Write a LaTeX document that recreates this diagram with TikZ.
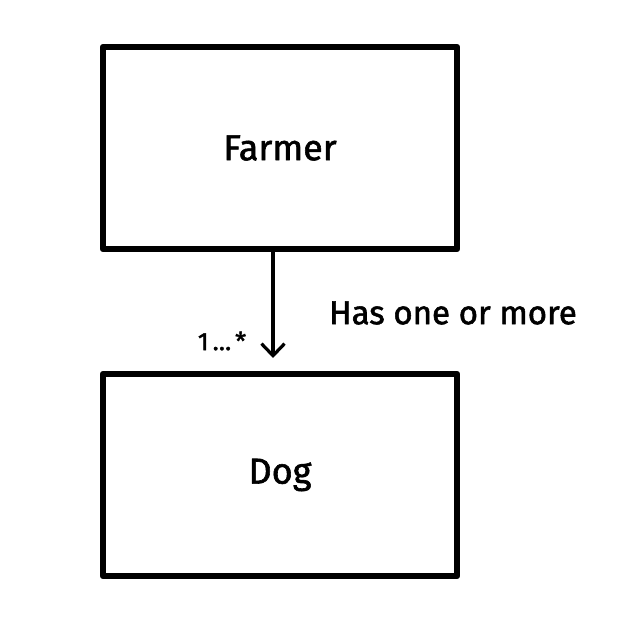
\documentclass[tikz,border=0pt]{standalone}
\usepackage{fontspec}
\setmainfont{Fira Sans}[BoldFont={Fira Sans},BoldFeatures={FakeBold=1.6}]
\usetikzlibrary{arrows.meta,positioning}
\begin{document}
\begin{tikzpicture}[x=1pt,y=1pt,
		box/.style={draw,line width=6.5pt,line join=round,
			minimum width=354pt,minimum height=202pt,
			inner sep=0pt,font=\fontsize{36}{40}\selectfont\bfseries},
		link/.style={line width=3.2pt,
			-{Straight Barb[length=12pt,width=23pt,line width=3.2pt]}},
		lbl/.style={inner sep=0pt}]
		\useasboundingbox (0,0) rectangle (632,624);
		\node[box] (farmer) at (280,476) {Farmer};
		\node[box] (dog) at (280,149) {Dog};
		\coordinate (tip) at (273,266);
		\draw[link] (farmer.south -| tip) -- (tip);
		\node[lbl,font=\fontsize{33}{37}\selectfont\bfseries] (has) at (453,311) {Has one or more};
		\node[lbl,font=\fontsize{25}{28}\selectfont\bfseries] (mult) at (222,283) {1\kern4pt…\kern4pt*};
		\end{tikzpicture}
\end{document}
